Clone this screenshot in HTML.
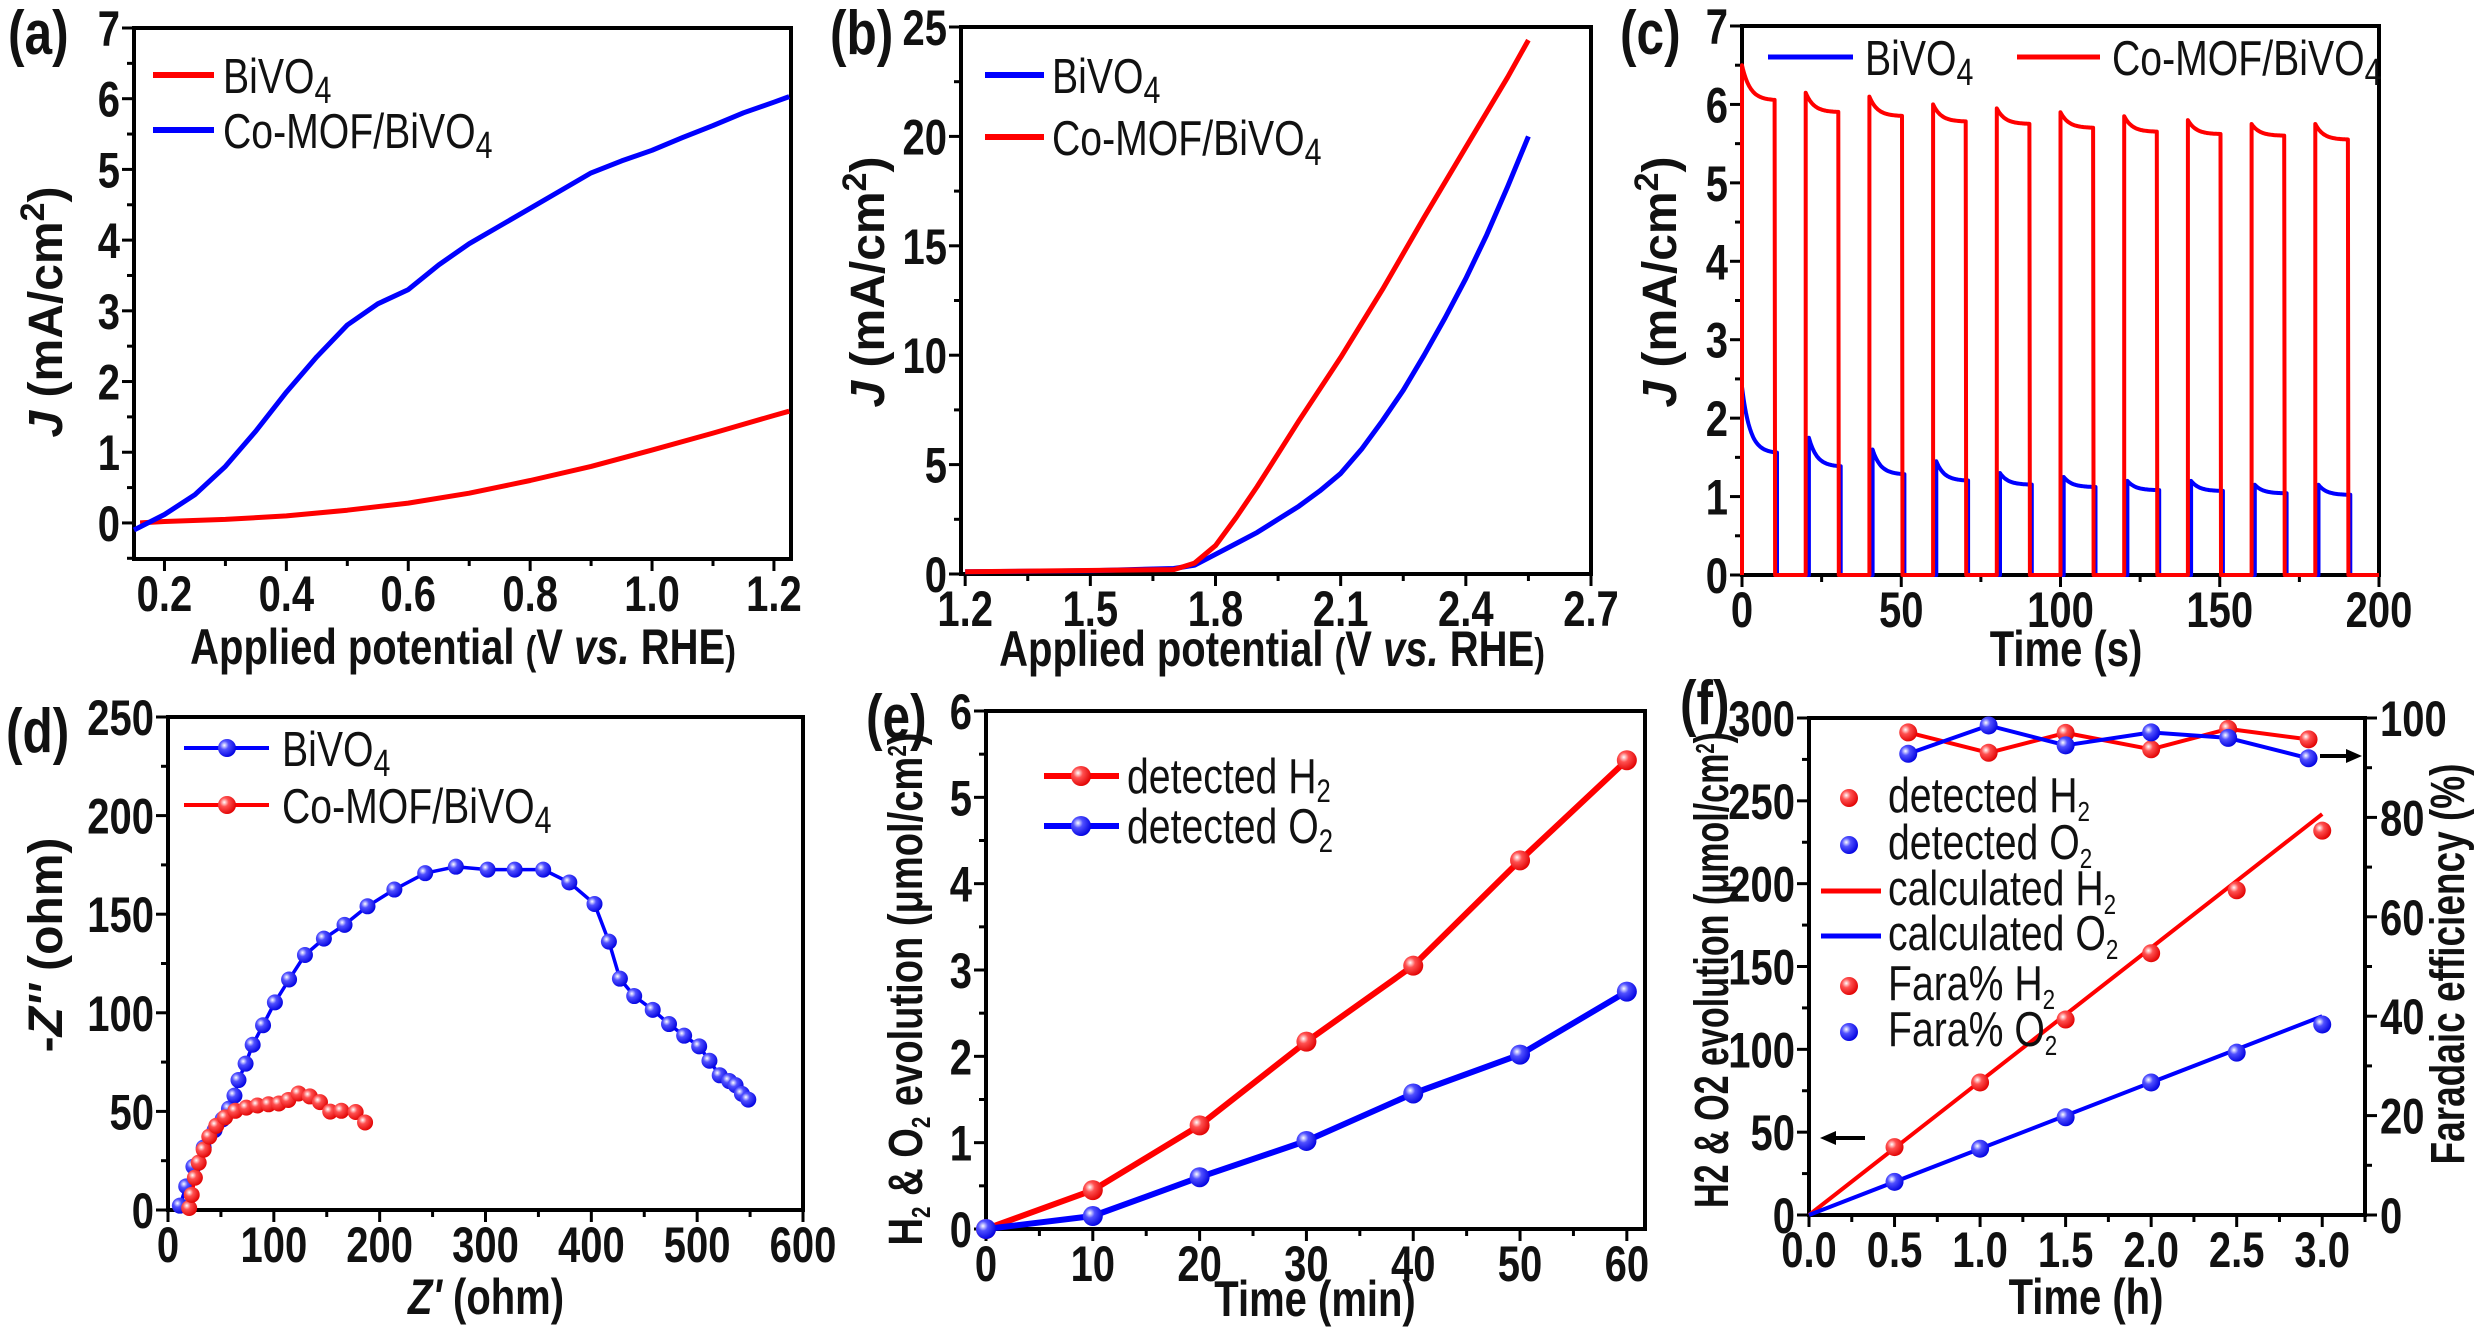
<!DOCTYPE html>
<html><head><meta charset="utf-8"><style>
html,body{margin:0;padding:0;background:#fff;overflow:hidden;}
svg{display:block;}
text{font-family:"Liberation Sans",sans-serif;fill:#111;}
.tk{font-size:50px;font-weight:bold;}
.xt{font-size:50px;font-weight:bold;}
.yt{font-size:48px;font-weight:bold;}
.lg{font-size:49px;}
.pl{font-size:62px;font-weight:bold;}
</style></head><body>
<svg id="chart" xmlns="http://www.w3.org/2000/svg" width="2480" height="1337" viewBox="0 0 2480 1337">
<defs>
<radialGradient id="gr" cx="0.35" cy="0.35" r="0.7"><stop offset="0" stop-color="#fff"/><stop offset="0.35" stop-color="#ff5050"/><stop offset="1" stop-color="#e00000"/></radialGradient>
<radialGradient id="gb" cx="0.35" cy="0.35" r="0.7"><stop offset="0" stop-color="#fff"/><stop offset="0.35" stop-color="#5050ff"/><stop offset="1" stop-color="#0000e0"/></radialGradient>
</defs>
</svg>
<script>
// ---------- DATA ----------
const aBlueX=[0.15,0.2,0.25,0.3,0.35,0.4,0.45,0.5,0.55,0.6,0.65,0.7,0.75,0.8,0.85,0.9,0.95,1.0,1.05,1.1,1.15,1.2,1.225];
const aBlueY=[-0.1,0.12,0.4,0.8,1.3,1.85,2.35,2.8,3.1,3.3,3.65,3.95,4.2,4.45,4.7,4.95,5.12,5.27,5.45,5.62,5.8,5.95,6.03];
const aRedX=[0.16,0.2,0.3,0.4,0.5,0.6,0.7,0.8,0.9,1.0,1.1,1.2,1.225];
const aRedY=[0,0.02,0.05,0.1,0.18,0.28,0.42,0.6,0.8,1.03,1.27,1.52,1.58];
const bBlueX=[1.2,1.5,1.7,1.75,1.8,1.85,1.9,1.95,2.0,2.05,2.1,2.15,2.2,2.25,2.3,2.35,2.4,2.45,2.5,2.55];
const bBlueY=[0.1,0.15,0.25,0.4,0.9,1.4,1.9,2.5,3.1,3.8,4.6,5.7,7.0,8.4,10.0,11.7,13.5,15.5,17.7,20.0];
const bRedX=[1.2,1.7,1.75,1.8,1.85,1.9,1.95,2.0,2.1,2.2,2.3,2.4,2.5,2.55];
const bRedY=[0.1,0.2,0.5,1.3,2.6,4.0,5.5,7.0,9.9,13.0,16.3,19.5,22.7,24.4];
const cCycles=[0,1,2,3,4,5,6,7,8,9];
const cRedPeak=[6.5,6.15,6.1,6.0,5.95,5.9,5.85,5.8,5.75,5.75];
const cRedEnd=[6.05,5.9,5.85,5.78,5.75,5.7,5.65,5.62,5.6,5.55];
const cBluePeak=[2.4,1.75,1.6,1.45,1.3,1.25,1.2,1.2,1.15,1.15];
const cBlueEnd=[1.55,1.38,1.28,1.2,1.15,1.12,1.08,1.07,1.04,1.02];
const dBlueX=[11.2,17.2,24,33.7,44,51.6,57.6,62.8,66.6,73.3,80,89.8,101,114.4,129.4,147.3,166.8,188.5,213.9,243,272,302,327.6,354.5,379.2,403,416.6,427,440.5,458,473.4,487.7,501.9,511.6,521.3,530.3,536.3,542.3,548.3];
const dBlueY=[2.2,12,22,31.7,40.5,46,51.4,58,65.9,74.2,83.8,93.7,105.3,116.9,129.3,137.6,144.6,154,162.5,170.8,174.1,172.6,172.6,172.6,166.1,155.2,136.1,117.3,108.5,101.5,94.3,88.4,83,75.7,68.3,65.4,63.3,58.9,56];
const dRedX=[20,22.4,25.4,29,33.7,39,45.6,53.9,63.6,74,84.5,95,104.7,113.7,123.4,134,143.6,153.3,163.8,177.3,186.2];
const dRedY=[1,7.7,16.4,24,30.6,37.2,42.7,47,50.3,51.9,53,53.6,54,55.8,59.1,57.6,54.7,49.9,50.3,49.7,44.4];
const eTime=[0,10,20,30,40,50,60];
const eH2=[0,0.45,1.2,2.17,3.05,4.27,5.43];
const eO2=[0,0.15,0.6,1.02,1.57,2.02,2.75];
const fTime=[0.5,1.0,1.5,2.0,2.5,3.0];
const fDetH2=[41,80,118,158,196,232];
const fDetO2=[20,40,59,80,98,115];
const fCalcX=[0,3.0];
const fCalcH2=[0,242];
const fCalcO2=[0,120];
const fFaraX=[0.58,1.05,1.5,2.0,2.45,2.92];
const fFaraH2=[97.1,93,97,93.7,97.8,95.7];
const fFaraO2=[92.8,98.5,94.5,97.1,96,91.9];

// ---------- HELPERS ----------
const NS='http://www.w3.org/2000/svg';
const svg=document.getElementById('chart');
const SX=0.8;
function mk(tag,attrs,parent){const e=document.createElementNS(NS,tag);for(const k in attrs)e.setAttribute(k,attrs[k]);(parent||svg).appendChild(e);return e;}
function lin(d0,d1,p0,p1){return v=>p0+(v-d0)/(d1-d0)*(p1-p0);}
function range(a,b,s){const r=[];for(let v=a;v<=b+1e-9;v+=s)r.push(+v.toFixed(6));return r;}
function ctext(x,y,html,cls,anchor,parent){
  const g=mk('g',{transform:'translate('+x+','+y+') scale('+SX+',1)'},parent);
  const t=mk('text',{x:0,y:0,class:cls,'text-anchor':anchor||'start'},g);
  t.innerHTML=html;
  return t;
}
function axes(name,c){
  const g=mk('g',{});
  
  
  const X=lin(c.x0,c.x1,c.L,c.R),Y=lin(c.y0,c.y1,c.B,c.T);
  const fr=mk('rect',{x:c.L,y:c.T,width:c.R-c.L,height:c.B-c.T,fill:'none',stroke:'#000','stroke-width':4},g);
  
  
  c.xmin.forEach(v=>mk('line',{x1:X(v),x2:X(v),y1:c.B,y2:c.B+7,stroke:'#000','stroke-width':3},g));
  c.ymin.forEach(v=>mk('line',{x1:c.L,x2:c.L-7,y1:Y(v),y2:Y(v),stroke:'#000','stroke-width':3},g));
  c.xt.forEach((v,i)=>{
    mk('line',{x1:X(v),x2:X(v),y1:c.B,y2:c.B+12,stroke:'#000','stroke-width':3},g);
    const t=ctext(X(v),c.B+52,c.xl[i],'tk','middle',g);
    
    
  });
  c.yt.forEach((v,i)=>{
    mk('line',{x1:c.L,x2:c.L-12,y1:Y(v),y2:Y(v),stroke:'#000','stroke-width':3},g);
    const t=ctext(c.L-14,Y(v)+18,c.yl[i],'tk','end',g);
    
    
  });
  return {X,Y};
}
function path(xs,ys,ax,color,w,name){
  let d='';xs.forEach((x,i)=>{d+=(i?'L':'M')+ax.X(x).toFixed(1)+' '+ax.Y(ys[i]).toFixed(1);});
  const p=mk('path',{d:d,fill:'none',stroke:color,'stroke-width':w,'stroke-linejoin':'round'});
  
  
  return p;
}
function dots(xs,ys,ax,grad,r,name){
  xs.forEach((x,i)=>{
    const c=mk('circle',{cx:ax.X(x),cy:ax.Y(ys[i]),r:r,fill:'url(#'+grad+')'});
    
    
  });
}
function txt(x,y,html,cls,name,anchor){
  const t=ctext(x,y,html,cls,anchor);
  
  
  return t;
}
function rtxt(cx,cy,html,size,name,len){
  const a={x:0,y:0,class:'yt','text-anchor':'middle','font-size':size,transform:'translate('+cx+','+cy+') rotate(-90)'};
  if(len){a.textLength=len;a.lengthAdjust='spacingAndGlyphs';}
  const t=mk('text',a);
  t.innerHTML=html;
  
  
}
function legLine(x1,x2,y,color,w,name){
  const l=mk('line',{x1:x1,x2:x2,y1:y,y2:y,stroke:color,'stroke-width':w});
  
  
}
function legDot(x,y,grad,r,name){
  const c=mk('circle',{cx:x,cy:y,r:r,fill:'url(#'+grad+')'});
  
  
}
const sub4='BiVO<tspan font-size="38" dy="10">4</tspan>';
const Jtitle='<tspan font-style="italic">J</tspan> (mA/cm<tspan font-size="34" dy="-18">2</tspan><tspan dy="18">)</tspan>';
const xPot='Applied potential <tspan font-size="40">(</tspan>V <tspan font-style="italic">vs.</tspan> RHE<tspan font-size="40">)</tspan>';

// ---------- (a) ----------
const A=axes('panel-a',{L:134,R:791,T:28,B:559,x0:0.15,x1:1.228,y0:-0.51,y1:7,
  xt:range(0.2,1.2,0.2),xl:['0.2','0.4','0.6','0.8','1.0','1.2'],xmin:range(0.3,1.1,0.2),
  yt:range(0,7,1),yl:['0','1','2','3','4','5','6','7'],ymin:range(-0.5,6.5,1)});
path(aRedX,aRedY,A,'#f00',5,'a-bivo4-curve');
path(aBlueX,aBlueY,A,'#00f',5,'a-comof-curve');
legLine(153,214,75,'#f00',6,'a-legend-line-bivo4');
txt(223,93,sub4,'lg','a-legend-bivo4');
legLine(153,214,130,'#00f',6,'a-legend-line-comof');
txt(223,148,'Co-MOF/'+sub4,'lg','a-legend-comof');
txt(463,664,xPot,'xt','a-x-axis-title','middle');
rtxt(62,312,Jtitle,48,'a-y-axis-title');
txt(8,54,'(a)','pl','panel-a-label');

// ---------- (b) ----------
const B=axes('panel-b',{L:961,R:1591,T:27,B:574,x0:1.19,x1:2.7,y0:0,y1:25,
  xt:range(1.2,2.7,0.3),xl:['1.2','1.5','1.8','2.1','2.4','2.7'],xmin:range(1.35,2.55,0.3),
  yt:range(0,25,5),yl:['0','5','10','15','20','25'],ymin:range(2.5,22.5,5)});
path(bBlueX,bBlueY,B,'#00f',5,'b-bivo4-curve');
path(bRedX,bRedY,B,'#f00',5,'b-comof-curve');
legLine(985,1044,75,'#00f',6,'b-legend-line-bivo4');
txt(1052,93,sub4,'lg','b-legend-bivo4');
legLine(985,1044,137,'#f00',6,'b-legend-line-comof');
txt(1052,155,'Co-MOF/'+sub4,'lg','b-legend-comof');
txt(1272,666,xPot,'xt','b-x-axis-title','middle');
rtxt(884,282,Jtitle,48,'b-y-axis-title');
txt(830,54,'(b)','pl','panel-b-label');

// ---------- (c) ----------
const C=axes('panel-c',{L:1742,R:2379,T:26,B:575,x0:0,x1:200,y0:0,y1:7,
  xt:range(0,200,50),xl:['0','50','100','150','200'],xmin:range(25,175,50),
  yt:range(0,7,1),yl:['0','1','2','3','4','5','6','7'],ymin:range(0.5,6.5,1)});
function cTrace(peak,end,onOff,onLen,color,name){
  const xs=[],ys=[];
  cCycles.forEach((k,i)=>{
    const ts=20*k+(k>0?onOff:0), te=20*k+onLen;
    xs.push(ts);ys.push(0);
    for(let t=ts;t<=te;t+=0.25){xs.push(t);ys.push(end[i]+(peak[i]-end[i])*Math.exp(-(t-ts)/2.5));}
    xs.push(te);ys.push(0);
  });
  xs.push(200);ys.push(0);
  path(xs,ys,C,color,4,name);
}
cTrace(cBluePeak,cBlueEnd,1,11,'#00f','c-bivo4-trace');
cTrace(cRedPeak,cRedEnd,0,10.4,'#f00','c-comof-trace');
legLine(1768,1853,57,'#00f',5,'c-legend-line-bivo4');
txt(1865,75,sub4,'lg','c-legend-bivo4');
legLine(2017,2100,57,'#f00',5,'c-legend-line-comof');
txt(2112,75,'Co-MOF/'+sub4,'lg','c-legend-comof');
txt(2066,666,'Time (s)','xt','c-x-axis-title','middle');
rtxt(1676,282,Jtitle,48,'c-y-axis-title');
txt(1620,54,'(c)','pl','panel-c-label');

// ---------- (d) ----------
const D=axes('panel-d',{L:168,R:803,T:717,B:1210,x0:0,x1:600,y0:0,y1:250,
  xt:range(0,600,100),xl:['0','100','200','300','400','500','600'],xmin:range(50,550,100),
  yt:range(0,250,50),yl:['0','50','100','150','200','250'],ymin:range(25,225,50)});
path(dBlueX,dBlueY,D,'#00f',3.5,'d-bivo4-line');
dots(dBlueX,dBlueY,D,'gb',8,'d-bivo4-point');
path(dRedX,dRedY,D,'#f00',3.5,'d-comof-line');
dots(dRedX,dRedY,D,'gr',8,'d-comof-point');
legLine(184,269,748,'#00f',4,'d-legend-line-bivo4');
legDot(227,748,'gb',9,'d-legend-dot-bivo4');
txt(282,766,sub4,'lg','d-legend-bivo4');
legLine(184,269,805,'#f00',4,'d-legend-line-comof');
legDot(227,805,'gr',9,'d-legend-dot-comof');
txt(282,823,'Co-MOF/'+sub4,'lg','d-legend-comof');
txt(486,1314,'<tspan font-style="italic">Z\'</tspan> (ohm)','xt','d-x-axis-title','middle');
rtxt(62,945,'-<tspan font-style="italic">Z\'\'</tspan> (ohm)',48,'d-y-axis-title');
txt(6,752,'(d)','pl','panel-d-label');

// ---------- (e) ----------
const E=axes('panel-e',{L:986,R:1645,T:711,B:1229,x0:0,x1:61.7,y0:0,y1:6,
  xt:range(0,60,10),xl:['0','10','20','30','40','50','60'],xmin:range(5,55,10),
  yt:range(0,6,1),yl:['0','1','2','3','4','5','6'],ymin:range(0.5,5.5,1)});
path(eTime,eH2,E,'#f00',6,'e-h2-line');
dots(eTime,eH2,E,'gr',10,'e-h2-point');
path(eTime,eO2,E,'#00f',6,'e-o2-line');
dots(eTime,eO2,E,'gb',10,'e-o2-point');
legLine(1044,1119,776,'#f00',6,'e-legend-line-h2');
legDot(1081,776,'gr',10,'e-legend-dot-h2');
txt(1127,793,'detected H<tspan font-size="32" dy="9">2</tspan>','lg','e-legend-h2');
legLine(1044,1119,826,'#00f',6,'e-legend-line-o2');
legDot(1081,826,'gb',10,'e-legend-dot-o2');
txt(1127,843,'detected O<tspan font-size="32" dy="9">2</tspan>','lg','e-legend-o2');
txt(1315,1316,'Time (min)','xt','e-x-axis-title','middle');
rtxt(922,989,'H<tspan font-size="26" dy="8">2</tspan><tspan dy="-8"> &amp; O</tspan><tspan font-size="26" dy="8">2</tspan><tspan dy="-8"> evolution (μmol/cm</tspan><tspan font-size="26" dy="-16">2</tspan><tspan dy="16">)</tspan>',38,'e-y-axis-title',513);
txt(866,738,'(e)','pl','panel-e-label');

// ---------- (f) ----------
const F=axes('panel-f',{L:1809,R:2365,T:718,B:1215,x0:0,x1:3.25,y0:0,y1:300,
  xt:range(0,3,0.5),xl:['0.0','0.5','1.0','1.5','2.0','2.5','3.0'],xmin:range(0.25,3.25,0.5),
  yt:range(0,300,50),yl:['0','50','100','150','200','250','300'],ymin:range(25,275,50)});
const FR={X:F.X,Y:lin(0,100,1215,718)};
[0,20,40,60,80,100].forEach(v=>{
  mk('line',{x1:2365,x2:2377,y1:FR.Y(v),y2:FR.Y(v),stroke:'#000','stroke-width':3});
  const t=ctext(2380,FR.Y(v)+18,String(v),'tk','start');
  
  
});
[10,30,50,70,90].forEach(v=>mk('line',{x1:2365,x2:2372,y1:FR.Y(v),y2:FR.Y(v),stroke:'#000','stroke-width':3}));
path(fCalcX,fCalcH2,F,'#f00',4,'f-calculated-h2-line');
path(fCalcX,fCalcO2,F,'#00f',4,'f-calculated-o2-line');
dots(fTime,fDetH2,F,'gr',9,'f-detected-h2-point');
dots(fTime,fDetO2,F,'gb',9,'f-detected-o2-point');
path(fFaraX,fFaraH2,FR,'#f00',4,'f-fara-h2-line');
path(fFaraX,fFaraO2,FR,'#00f',4,'f-fara-o2-line');
dots(fFaraX,fFaraH2,FR,'gr',9,'f-fara-h2-point');
dots(fFaraX,fFaraO2,FR,'gb',9,'f-fara-o2-point');
const fl=[['gr','detected H'],['gb','detected O'],['lr','calculated H'],['lb','calculated O'],['gr','Fara% H'],['gb','Fara% O']];
const fy=[798,845,891,936,986,1032];
fl.forEach((e,i)=>{
  if(e[0][0]==='g'){legDot(1849,fy[i],e[0],9,'f-legend-dot');}
  else{legLine(1821,1881,fy[i],e[0]==='lr'?'#f00':'#00f',5,'f-legend-line');}
  const t=ctext(1888,fy[i]+14,e[1]+'<tspan font-size="28" dy="9">2</tspan>','lg','start');
  t.setAttribute('font-size','42');
  
  
});
mk('line',{x1:1865,x2:1832,y1:1138,y2:1138,stroke:'#000','stroke-width':4});
mk('path',{d:'M1820 1138 L1836 1131 L1836 1145 Z',fill:'#000'});
mk('line',{x1:2320,x2:2350,y1:756,y2:756,stroke:'#000','stroke-width':4});
mk('path',{d:'M2362 756 L2346 749 L2346 763 Z',fill:'#000'});
txt(2086,1314,'Time (h)','xt','f-x-axis-title','middle');
rtxt(1728,970,'H2 &amp; O2 evolution (μmol/cm<tspan font-size="26" dy="-14">2</tspan><tspan dy="14">)</tspan>',36,'f-y-axis-title',476);
rtxt(2464,964,'Faradaic efficiency (%)',40,'f-right-y-axis-title',401);
txt(1680,724,'(f)','pl','panel-f-label');
</script>
</body></html>
